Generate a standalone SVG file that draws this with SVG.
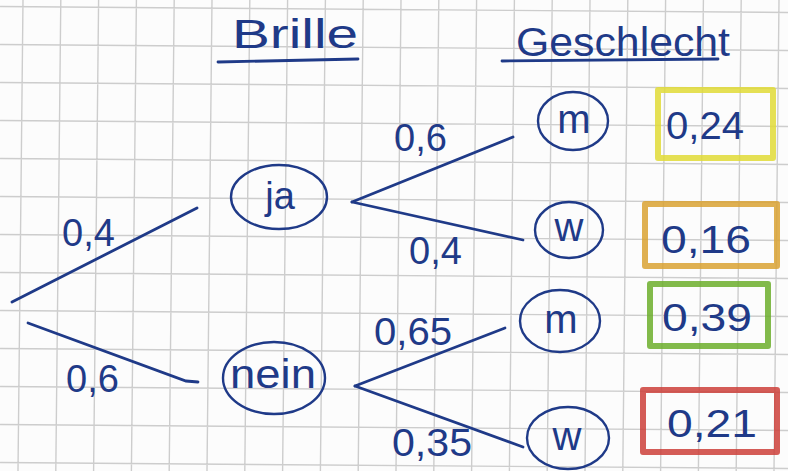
<svg xmlns="http://www.w3.org/2000/svg" width="788" height="471" viewBox="0 0 788 471">
<defs>
<style>
.grid{stroke:#cdcdcd;stroke-width:1.4;fill:none}
.ink{fill:#1f3a88;font-family:"Liberation Sans","DejaVu Sans",sans-serif}
.edge{stroke:#1f3a88;stroke-width:2.8;fill:none;stroke-linecap:round}
.node ellipse{fill:none;stroke:#1f3a88;stroke-width:2.4}
.lbl{font-size:38px}
.res rect{fill:none;stroke-width:6;stroke-linejoin:round;opacity:0.85}
</style>
</defs>
<rect width="788" height="471" fill="#fcfcfc"/>
<path class="grid" d="M23 0L18 471M60.8 0L55.8 471M98.6 0L93.6 471M136.4 0L131.4 471M174.2 0L169.2 471M212 0L207 471M249.8 0L244.8 471M287.6 0L282.6 471M325.4 0L320.4 471M363.2 0L358.2 471M401 0L396 471M438.8 0L433.8 471M476.6 0L471.6 471M514.4 0L509.4 471M552.2 0L547.2 471M590 0L585 471M627.8 0L622.8 471M665.6 0L660.6 471M703.4 0L698.4 471M741.2 0L736.2 471M779 0L774 471M0 6.5L788 12.5M0 44.5L788 50.5M0 82.5L788 88.5M0 120.5L788 126.5M0 158.5L788 164.5M0 196.5L788 202.5M0 234.5L788 240.5M0 272.5L788 278.5M0 310.5L788 316.5M0 348.5L788 354.5M0 386.5L788 392.5M0 424.5L788 430.5M0 462.5L788 468.5"/>
<g id="titles">
<text class="ink" x="232" y="48" font-size="40" textLength="126" lengthAdjust="spacingAndGlyphs">Brille</text>
<path class="edge" d="M218 62L358 59" stroke-width="2.5"/>
<text class="ink" x="516" y="56" font-size="40" textLength="214" lengthAdjust="spacingAndGlyphs">Geschlecht</text>
<path class="edge" d="M502 61L718 59" stroke-width="2.5"/>
</g>
<g id="connectors">
<path class="edge" d="M12 302L197 208"/>
<path class="edge" d="M28 323Q150 368 186 381L198 382"/>
<path class="edge" d="M352 202L513 137"/>
<path class="edge" d="M352 202L523 240"/>
<path class="edge" d="M355 386L505 328"/>
<path class="edge" d="M355 386L523 447"/>
</g>
<g id="edge-labels" class="ink lbl">
<text x="62" y="246">0,4</text>
<text x="66" y="392">0,6</text>
<text x="394" y="151">0,6</text>
<text x="409" y="264">0,4</text>
<text x="374" y="345" textLength="78" lengthAdjust="spacingAndGlyphs">0,65</text>
<text x="392" y="456" textLength="80" lengthAdjust="spacingAndGlyphs">0,35</text>
</g>
<g id="node-ja" class="node">
<ellipse cx="279" cy="197" rx="48" ry="32"/>
<text class="ink" x="280" y="209" font-size="38" text-anchor="middle">ja</text>
</g>
<g id="node-nein" class="node">
<ellipse cx="274" cy="378" rx="51" ry="36"/>
<text class="ink" x="273" y="388" font-size="40" text-anchor="middle" textLength="86" lengthAdjust="spacingAndGlyphs">nein</text>
</g>
<g id="node-m1" class="node">
<ellipse cx="573" cy="121" rx="35" ry="29"/>
<text class="ink" x="574" y="133" font-size="40" text-anchor="middle">m</text>
</g>
<g id="node-w1" class="node">
<ellipse cx="569" cy="230" rx="34" ry="28"/>
<text class="ink" x="569" y="241" font-size="40" text-anchor="middle">w</text>
</g>
<g id="node-m2" class="node">
<ellipse cx="560" cy="321" rx="40" ry="31"/>
<text class="ink" x="561" y="333" font-size="40" text-anchor="middle">m</text>
</g>
<g id="node-w2" class="node">
<ellipse cx="568" cy="438" rx="41" ry="31"/>
<text class="ink" x="567" y="450" font-size="40" text-anchor="middle">w</text>
</g>
<g id="result-1" class="res">
<rect x="658" y="90" width="115" height="68" stroke="#e0da36"/>
<text class="ink lbl" x="666" y="139" textLength="78" lengthAdjust="spacingAndGlyphs">0,24</text>
</g>
<g id="result-2" class="res">
<rect x="645" y="204" width="132" height="62" stroke="#d9a232"/>
<text class="ink lbl" x="661" y="253" textLength="90" lengthAdjust="spacingAndGlyphs">0,16</text>
</g>
<g id="result-3" class="res">
<rect x="650" y="284" width="118" height="62" stroke="#6cae2c"/>
<text class="ink lbl" x="662" y="331" textLength="90" lengthAdjust="spacingAndGlyphs">0,39</text>
</g>
<g id="result-4" class="res">
<rect x="643" y="390" width="134" height="62" stroke="#cc3f3a"/>
<text class="ink lbl" x="667" y="437" textLength="90" lengthAdjust="spacingAndGlyphs">0,21</text>
</g>
</svg>
